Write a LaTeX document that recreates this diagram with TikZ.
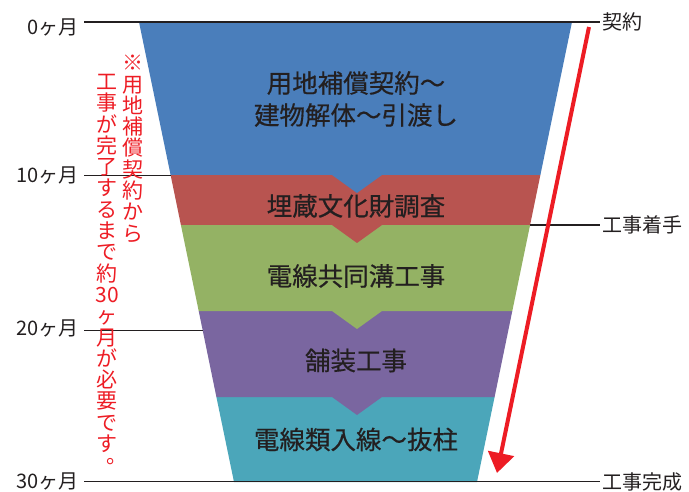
\documentclass[tikz,border=0pt]{standalone}
\usepackage{fontspec}
\setmainfont{Noto Sans CJK JP}
\newfontfamily\bandfont{Noto Sans CJK JP}[FakeBold=0.5]
\usetikzlibrary{arrows.meta}
\definecolor{bandblue}{RGB}{74,126,187}
\definecolor{bandred}{RGB}{184,84,80}
\definecolor{bandgreen}{RGB}{148,178,100}
\definecolor{bandpurple}{RGB}{122,102,160}
\definecolor{bandteal}{RGB}{75,166,186}
\definecolor{txtdark}{RGB}{35,31,32}
\definecolor{noteRed}{RGB}{237,28,36}
\tikzset{
  bandtext/.style={inner sep=0pt, text=txtdark, align=center,
    font=\bandfont\fontsize{25.5}{32}\selectfont},
  monthlbl/.style={anchor=east, inner ysep=0pt, inner xsep=5pt, text=txtdark,
    font=\fontsize{20}{20}\selectfont},
  eventlbl/.style={anchor=west, inner ysep=0pt, inner xsep=2pt, text=txtdark,
    font=\fontsize{20}{20}\selectfont},
  tick/.style={line width=1.6pt, txtdark},
  vnote/.style={anchor=north, inner sep=0pt, text=noteRed, align=center,
    font=\fontsize{21}{21.3}\selectfont},
  flow/.style={line width=4pt, noteRed, -{Triangle[width=26pt,length=20pt]}}
}
\begin{document}
\begin{tikzpicture}[x=1pt,y=-1pt]
\useasboundingbox (0,0) rectangle (689,492);
% funnel bands (bottom first so upper chevrons overlap)
\fill[bandteal] (216.4,397) -- (494.6,397) -- (477,482) -- (234,482) -- cycle;
\fill[bandpurple] (198.7,311) -- (512.3,311) -- (494.6,397) -- (382,397) -- (357,415) -- (332,397) -- (216.4,397) -- cycle;
\fill[bandgreen] (180.9,225) -- (530.1,225) -- (512.3,311) -- (382,311) -- (357,329) -- (332,311) -- (198.7,311) -- cycle;
\fill[bandred] (170.6,175) -- (540.4,175) -- (530.1,225) -- (382,225) -- (357,243) -- (332,225) -- (180.9,225) -- cycle;
\fill[bandblue] (139,22) -- (572,22) -- (540.4,175) -- (382,175) -- (357,193) -- (332,175) -- (170.6,175) -- cycle;
% band texts
\node[bandtext] (t1) at (356,99) {用地補償契約～\\建物解体～引渡し};
\node[bandtext] (t2) at (356,206) {埋蔵文化財調査};
\node[bandtext] (t3) at (356,276) {電線共同溝工事};
\node[bandtext] (t4) at (356,360.5) {舗装工事};
\node[bandtext] (t5) at (356,439.5) {電線類入線～抜柱};
% month labels
\node[monthlbl] (m0) at (84,27) {0ヶ月};
\node[monthlbl] (m10) at (84,175.5) {10ヶ月};
\node[monthlbl] (m20) at (84,328) {20ヶ月};
\node[monthlbl] (m30) at (84,481.5) {30ヶ月};
% event labels
\node[eventlbl] (e0) at (600,22) {契約};
\node[eventlbl] (e1) at (600,225) {工事着手};
\node[eventlbl] (e2) at (600,481.5) {工事完成};
% line end points
\coordinate (l0) at (84,22);
\coordinate (l20) at (84,330.5);
\coordinate (f10) at (170.6,175.5);
\coordinate (f20) at (202.8,330.5);
\coordinate (fst) at (530,225);
% tick lines
\draw[tick] (l0) -- (e0.west);
\draw[tick] (m10.east) -- (f10);
\draw[tick] (l20) -- (f20);
\draw[tick] (m30.east) -- (e2.west);
\draw[tick] (fst) -- (e1.west);
% red vertical note
\node[vnote] (n1) at (133,55) {※\\用\\地\\補\\償\\契\\約\\か\\ら};
\node[vnote] (n2) at (107,74) {工\\事\\が\\完\\了\\す\\る\\ま\\で\\約\\30\\ヶ\\月\\が\\必\\要\\で\\す};
\node[inner sep=0pt, text=noteRed, font=\fontsize{21}{21.3}\selectfont,
  text height=0.3em, text depth=0.05em] (n3) at (112,462) {\makebox[0.5em][l]{。}};
% flow arrow
\coordinate (as) at (589,27);
\coordinate (ae) at (497,473);
\draw[flow] (as) -- (ae);
\end{tikzpicture}
\end{document}
